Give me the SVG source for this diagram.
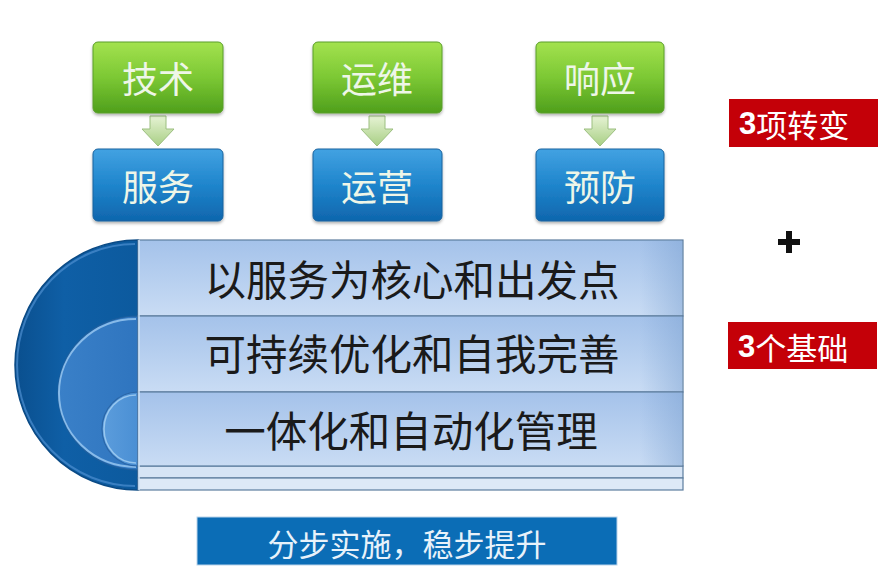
<svg xmlns="http://www.w3.org/2000/svg" width="890" height="586" viewBox="0 0 890 586">
<defs>
<linearGradient id="gGreen" x1="0" y1="0" x2="0" y2="1">
<stop offset="0" stop-color="#a3e24e"/><stop offset="0.5" stop-color="#7cc834"/><stop offset="1" stop-color="#4f9f1c"/>
</linearGradient>
<linearGradient id="gBlue" x1="0" y1="0" x2="0" y2="1">
<stop offset="0" stop-color="#42a2e2"/><stop offset="0.5" stop-color="#1f85cc"/><stop offset="1" stop-color="#0f66ad"/>
</linearGradient>
<linearGradient id="gArrow" x1="0" y1="0" x2="0" y2="1">
<stop offset="0" stop-color="#e6f3d4"/><stop offset="1" stop-color="#a8cf84"/>
</linearGradient>
<linearGradient id="gRow" x1="0" y1="0" x2="0" y2="1">
<stop offset="0" stop-color="#a4c2ea"/><stop offset="1" stop-color="#c9dcf4"/>
</linearGradient>
<linearGradient id="gRowEdge" x1="0" y1="0" x2="1" y2="0">
<stop offset="0" stop-color="#7aa0d0" stop-opacity="0"/><stop offset="1" stop-color="#7aa0d0" stop-opacity="0.45"/>
</linearGradient>
<linearGradient id="gOuter" x1="0" y1="0" x2="1" y2="0">
<stop offset="0" stop-color="#0a4f8e"/><stop offset="0.4" stop-color="#0f5fa6"/><stop offset="1" stop-color="#0c5a9e"/>
</linearGradient>
<linearGradient id="gMid" x1="0" y1="0" x2="1" y2="0">
<stop offset="0" stop-color="#3a80c8"/><stop offset="1" stop-color="#2f75bf"/>
</linearGradient>
<linearGradient id="gInner" x1="0" y1="0" x2="1" y2="0">
<stop offset="0" stop-color="#5c9ddc"/><stop offset="1" stop-color="#4a8fd4"/>
</linearGradient>
<filter id="shadow" x="-10%" y="-10%" width="120%" height="130%">
<feDropShadow dx="0" dy="2" stdDeviation="1.5" flood-color="#000" flood-opacity="0.3"/>
</filter>
<path id="arrowShape" d="M-8,0 H8 V13 H16 L0,30 L-16,13 H-8 Z"/>
</defs>
<style>
.cjk{font-family:"Noto Sans CJK SC","Noto Sans",sans-serif;}
.boxText{font-size:36px;fill:#eef6e8;text-anchor:middle;dominant-baseline:central;}
.green{fill:url(#gGreen);stroke:#5a9e2a;stroke-width:1;}
.blue{fill:url(#gBlue);stroke:#1a629e;stroke-width:1;}
.arrow{fill:url(#gArrow);stroke:#9cbf80;stroke-width:1;}
.row{fill:url(#gRow);stroke:#5d7d9e;stroke-width:1.2;}
.rowText{font-size:41.5px;fill:#1a1a1a;text-anchor:middle;dominant-baseline:central;}
.red{fill:#c40008;}
.redText{font-size:31px;fill:#ffffff;dominant-baseline:central;}
.num{font-family:"Liberation Sans",Arial,sans-serif;font-weight:bold;font-size:31px;}
</style>
<rect width="890" height="586" fill="#ffffff"/>

<g id="connectors">
<use href="#arrowShape" x="158" y="116" class="arrow"/>
<use href="#arrowShape" x="377" y="116" class="arrow"/>
<use href="#arrowShape" x="600" y="116" class="arrow"/>
</g>

<g id="node-jishu">
<rect x="93" y="42" width="130" height="71" rx="5" class="green" filter="url(#shadow)"/>
<text x="158" y="77" class="cjk boxText">技术</text>
</g>
<g id="node-yunwei">
<rect x="313" y="42" width="129" height="71" rx="5" class="green" filter="url(#shadow)"/>
<text x="377" y="77" class="cjk boxText">运维</text>
</g>
<g id="node-xiangying">
<rect x="536" y="42" width="128" height="71" rx="5" class="green" filter="url(#shadow)"/>
<text x="600" y="77" class="cjk boxText">响应</text>
</g>
<g id="node-fuwu">
<rect x="93" y="149" width="130" height="72" rx="5" class="blue" filter="url(#shadow)"/>
<text x="158" y="185" class="cjk boxText">服务</text>
</g>
<g id="node-yunying">
<rect x="313" y="149" width="129" height="72" rx="5" class="blue" filter="url(#shadow)"/>
<text x="377" y="185" class="cjk boxText">运营</text>
</g>
<g id="node-yufang">
<rect x="536" y="149" width="128" height="72" rx="5" class="blue" filter="url(#shadow)"/>
<text x="600" y="185" class="cjk boxText">预防</text>
</g>

<g id="node-foundation">
<path d="M138,240 A123,125 0 0 0 138,490 Z" fill="url(#gOuter)" stroke="#0a4a85" stroke-width="1.5"/>
<path d="M135,244 A118,121 0 0 0 135,486" fill="none" stroke="#4d8fd0" stroke-width="2" opacity="0.7"/>
<path d="M138,316 A80,77 0 0 0 138,470 Z" fill="url(#gMid)" stroke="#1f5f9e" stroke-width="1.2"/>
<path d="M136,319 A76,73 0 0 0 136,467" fill="none" stroke="#9ccaf2" stroke-width="2" opacity="0.8"/>
<path d="M138,392 A36,37 0 0 0 138,466 Z" fill="url(#gInner)" stroke="#2a66a8" stroke-width="1.2"/>
<path d="M136,395 A32,34 0 0 0 136,463" fill="none" stroke="#a8d2f4" stroke-width="1.5" opacity="0.8"/>

<rect x="138" y="466" width="545" height="12" fill="#d6e4f5" stroke="#5d7d9e" stroke-width="1.2"/>
<rect x="138" y="478" width="545" height="12" fill="#dde9f7" stroke="#5d7d9e" stroke-width="1.2"/>
<rect x="138" y="240" width="545" height="76" class="row"/>
<rect x="640" y="241" width="42" height="74" fill="url(#gRowEdge)"/>
<rect x="138" y="316" width="545" height="76" class="row"/>
<rect x="640" y="317" width="42" height="74" fill="url(#gRowEdge)"/>
<rect x="138" y="392" width="545" height="74" class="row"/>
<rect x="640" y="393" width="42" height="72" fill="url(#gRowEdge)"/>
<line x1="139" y1="240" x2="139" y2="490" stroke="#cfe3f7" stroke-width="1.5"/>
<text x="412" y="278" class="cjk rowText">以服务为核心和出发点</text>
<text x="412" y="352" class="cjk rowText">可持续优化和自我完善</text>
<text x="411" y="429" class="cjk rowText">一体化和自动化管理</text>
</g>

<g id="node-bottom">
<rect x="197" y="517" width="420" height="48" fill="#0b6db6" stroke="#b9d3ea" stroke-width="1"/>
<text x="407" y="542" class="cjk" font-size="31" fill="#e8f2fa" text-anchor="middle" dominant-baseline="central">分步实施，稳步提升</text>
</g>

<g id="node-change">
<rect x="729" y="99" width="149" height="48" class="red"/>
<text x="739" y="123" class="redText"><tspan class="num">3</tspan><tspan class="cjk">项转变</tspan></text>
</g>

<g id="node-plus">
<path d="M786,231 h6 v8 h8 v6 h-8 v8 h-6 v-8 h-8 v-6 h8 Z" fill="#111"/>
</g>

<g id="node-basis">
<rect x="728" y="322" width="149" height="47" class="red"/>
<text x="738" y="346" class="redText"><tspan class="num">3</tspan><tspan class="cjk">个基础</tspan></text>
</g>
</svg>
